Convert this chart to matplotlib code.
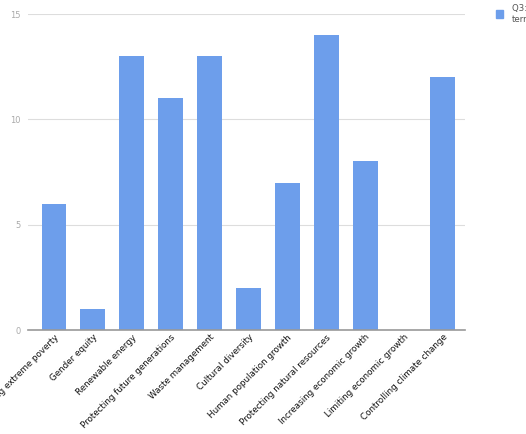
import matplotlib
matplotlib.use("Agg")
import matplotlib.pyplot as plt
from matplotlib.patches import Rectangle

categories = ["Ending extreme poverty", "Gender equity", "Renewable energy",
              "Protecting future generations", "Waste management", "Cultural diversity",
              "Human population growth", "Protecting natural resources",
              "Increasing economic growth", "Limiting economic growth",
              "Controlling climate change"]
values = [6, 1, 13, 11, 13, 2, 7, 14, 8, 0, 12]
yticks = [0, 5, 10, 15]
legend_label = "Q3: Long-\nterm"

bar_color = "#6d9eeb"

fig = plt.figure(figsize=(5.26, 4.34), dpi=100)
ax = fig.add_axes([28/526, 1-330/434, (465-28)/526, (330-14)/434])

x = list(range(len(categories)))
ax.bar(x, values, width=0.64, color=bar_color, zorder=3)
ax.set_xlim(-0.67, 10.57)
ax.set_ylim(0, 15)
ax.set_yticks(yticks)
ax.set_yticklabels([str(t) for t in yticks], color="#aaaaaa", fontsize=6)
ax.yaxis.grid(True, color="#dddddd", linewidth=0.8, zorder=0)
ax.tick_params(axis="y", length=0, pad=5)
ax.tick_params(axis="x", length=0, pad=2)
ax.set_xticks(x)
ax.set_xticklabels(categories, rotation=45, ha="right", rotation_mode="anchor",
                   fontsize=6.3, color="#111111")
for s in ["top", "right", "left"]:
    ax.spines[s].set_visible(False)
ax.spines["bottom"].set_color("#999999")
ax.spines["bottom"].set_linewidth(1.2)
ax.spines["bottom"].set_zorder(4)

fig.patches.append(Rectangle((496/526, 1-18/434), 7/526, 8/434,
                             transform=fig.transFigure, color=bar_color))
fig.text(512/526, 1-14/434, legend_label, fontsize=6.2, color="#555555",
         va="center", ha="left", linespacing=1.3)

fig.savefig("out.png", dpi=100)
